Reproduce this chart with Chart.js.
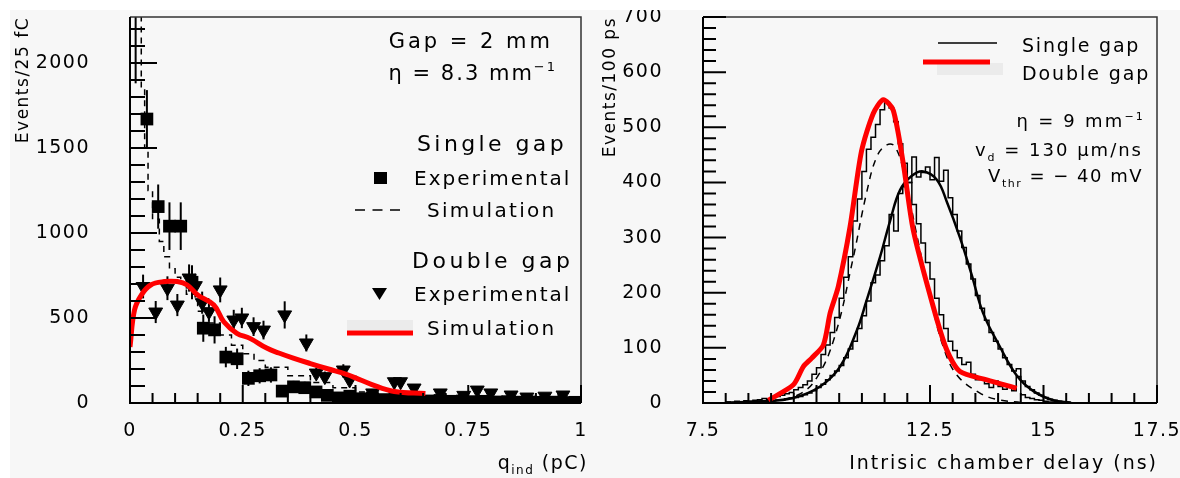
<!DOCTYPE html>
<html lang="en">
<head>
<meta charset="UTF-8">
<title>Induced charge and intrinsic chamber delay</title>
<style>
  body { margin: 0; background: #ffffff; }
  .sheet { position: relative; width: 1180px; height: 478px; overflow: hidden; }
  .bg { position: absolute; left: 10px; top: 10px; right: 0; bottom: 0; background: #f7f7f7; }
  .plot { position: absolute; top: 0; width: 590px; height: 478px; }
  .plot.left { left: 0; }
  .plot.right { left: 590px; }
  .cut { position: absolute; left: 0; top: 0; width: 1180px; height: 10px; background: #ffffff; }
</style>
</head>
<body>
<div class="sheet">
  <div class="bg"></div>
  <div class="plot left"><canvas id="chargeChart"></canvas></div>
  <div class="plot right"><canvas id="delayChart"></canvas></div>
  <div class="cut"></div>
</div>

<script src="https://cdn.jsdelivr.net/npm/chart.js@4.4.1/dist/chart.umd.min.js"></script>
<script>
// ---- left panel: induced charge (pC), events per 25 fC ----
const chargeTicks = [0, 0.25, 0.5, 0.75, 1];
const chargeCountTicks = [0, 500, 1000, 1500, 2000];

// single gap, experimental (squares)
const singleExpQ = [0.0125, 0.0375, 0.0625, 0.0875, 0.1125, 0.1375, 0.1625, 0.1875, 0.2125, 0.2375,
                    0.2625, 0.2875, 0.3125, 0.3375, 0.3625, 0.3875, 0.4125, 0.4375, 0.4625, 0.4875,
                    0.5125, 0.5375, 0.5625, 0.5875, 0.6125, 0.6375, 0.6625, 0.6875, 0.7125, 0.7375,
                    0.7625, 0.7875, 0.8125, 0.8375, 0.8625, 0.8875, 0.9125, 0.9375, 0.9625, 0.9875];
const singleExpN = [2500, 1670, 1155, 1040, 1040, 710, 440, 430, 270, 260,
                    145, 160, 165, 70, 95, 90, 65, 45, 30, 40,
                    25, 30, 20, 25, 15, 20, 12, 15, 10, 12,
                    8, 10, 6, 8, 5, 6, 4, 5, 3, 4];
const singleExpErr = [620, 170, 130, 140, 140, 100, 80, 80, 60, 60,
                      45, 45, 45, 30, 35, 35, 30, 25, 20, 22,
                      18, 20, 16, 18, 14, 16, 12, 14, 11, 12,
                      10, 11, 9, 10, 8, 9, 7, 8, 6, 7];

// double gap, experimental (triangles)
const doubleExpQ = [0.029, 0.057, 0.083, 0.105, 0.131, 0.145, 0.16, 0.175, 0.2, 0.23,
                    0.248, 0.274, 0.296, 0.343, 0.391, 0.413, 0.432, 0.473, 0.487, 0.538,
                    0.586, 0.60, 0.63, 0.688, 0.74, 0.77, 0.80, 0.845, 0.88, 0.92, 0.96];
const doubleExpN = [685, 535, 675, 576, 735, 690, 590, 537, 665, 488,
                    500, 449, 429, 518, 353, 176, 155, 194, 135, 59,
                    125, 125, 88, 59, 45, 76, 59, 47, 35, 40, 47];
const doubleExpErr = [70, 65, 70, 65, 80, 70, 65, 60, 73, 60,
                      60, 55, 55, 80, 50, 32, 30, 34, 28, 18,
                      26, 26, 22, 18, 15, 20, 18, 16, 14, 14, 16];

// single gap, simulation (dashed histogram, left bin edges)
const singleSimQ = [0, 0.025, 0.0325, 0.04, 0.05, 0.065, 0.075, 0.0875, 0.1, 0.1125,
                    0.125, 0.15, 0.175, 0.2, 0.225, 0.25, 0.275, 0.3, 0.35, 0.4,
                    0.45, 0.5, 0.55, 0.6, 0.7, 0.8, 0.9, 1];
const singleSimN = [2600, 1850, 1500, 1250, 1080, 950, 860, 790, 740, 700,
                    640, 540, 470, 400, 340, 290, 250, 210, 160, 120,
                    90, 65, 45, 30, 18, 10, 6, 6];

// double gap, simulation (red curve)
const doubleSimQ = [0, 0.01, 0.025, 0.046, 0.076, 0.105, 0.127, 0.15, 0.186, 0.208,
                    0.237, 0.266, 0.303, 0.33, 0.362, 0.40, 0.44, 0.48, 0.50, 0.535, 0.586, 0.655];
const doubleSimN = [330, 547, 635, 694, 714, 714, 694, 635, 576, 478,
                    410, 380, 323, 294, 264, 232, 200, 168, 148, 110, 68, 56];

// ---- right panel: intrinsic chamber delay (ns), events per 100 ps ----
const delayTicks = [7.5, 10, 12.5, 15, 17.5];
const delayCountTicks = [0, 100, 200, 300, 400, 500, 600, 700];
const delayBinStart = 8.0;
const delayBinWidth = 0.1;
const doubleExpDelay = [2, 0, 3, 2, 4, 3, 5, 6, 8, 7,
                        10, 12, 14, 17, 19, 24, 28, 33, 40, 52,
                        64, 88, 105, 128, 155, 190, 228, 265, 330, 370,
                        420, 460, 482, 505, 532, 545, 535, 510, 470, 435,
                        400, 360, 325, 290, 255, 225, 190, 160, 135, 112,
                        95, 82, 70, 74, 52, 42, 46, 35, 28, 40,
                        30, 25, 30, 22, 48, 15, 10, 8, 6, 5,
                        3, 2, 2, 1, 1, 0];
const singleExpDelay = [0, 1, 0, 2, 1, 2, 1, 3, 2, 3,
                        4, 5, 5, 7, 8, 10, 12, 15, 18, 22,
                        28, 34, 42, 50, 58, 68, 82, 98, 112, 135,
                        158, 185, 218, 232, 258, 285, 342, 312, 380, 392,
                        400, 446, 410, 418, 428, 405, 445, 402, 422, 372,
                        342, 312, 282, 252, 225, 195, 172, 150, 128, 112,
                        98, 82, 70, 58, 62, 40, 30, 24, 18, 14,
                        10, 7, 5, 3, 2, 1];
const singleFitT = [8.0, 8.8, 9.48, 10.08, 10.52, 10.89, 11.1, 11.4, 11.62, 11.84, 12.1,
                    12.35, 12.65, 12.87, 13.16, 13.42, 13.67, 14.04, 14.41, 14.77, 15.21, 15.6];
const singleFitN = [1, 3, 9, 30, 66, 132, 185, 265, 330, 386, 412,
                    420, 405, 365, 300, 232, 163, 102, 50, 22, 5, 1];
const doubleFitT = [9.0, 9.6, 10.0, 10.4, 10.8, 11.1, 11.33, 11.55, 11.73, 11.95,
                    12.17, 12.5, 12.8, 13.1, 13.6, 14.0, 14.5];
const doubleFitN = [3, 15, 45, 120, 260, 380, 447, 468, 465, 410,
                    320, 195, 100, 50, 18, 6, 1];
const doubleSimT = [8.94, 9.49, 9.71, 9.89, 10.15, 10.30, 10.48, 10.74, 10.99, 11.25,
                    11.47, 11.69, 11.91, 12.13, 12.57, 12.87, 13.16, 13.75, 14.41];
const doubleSimN2 = [5, 33, 66, 81, 105, 163, 211, 320, 456, 525,
                     550, 531, 435, 314, 175, 96, 57, 42, 27];

const FONT = '"DejaVu Sans", sans-serif';
Chart.defaults.font.family = FONT;
Chart.defaults.color = '#000';

const pts = (xs, ys) => xs.map((x, i) => ({x, y: ys[i]}));
function histPoints(start, width, counts) {
  const p = counts.map((n, i) => ({x: start + i * width, y: n}));
  p.push({x: start + counts.length * width, y: 0});
  return p;
}
const isMajor = (v, step) => Math.abs(v / step - Math.round(v / step)) < 1e-6;

// text with sub/superscripts, baseline placed so caps are centred on y
function label(ctx, parts, x, y, size, align, spacing) {
  ctx.letterSpacing = spacing + 'px';
  const fontFor = m => (m ? Math.round(size * 0.62) : size) + 'px ' + FONT;
  let w = 0;
  parts.forEach(([t, m]) => { ctx.font = fontFor(m); w += ctx.measureText(t).width; });
  let cx = align === 'right' ? x - w : x;
  ctx.textAlign = 'left';
  ctx.textBaseline = 'alphabetic';
  const base = y + size * 0.36;
  parts.forEach(([t, m]) => {
    ctx.font = fontFor(m);
    const dy = m === 'sub' ? size * 0.25 : m === 'sup' ? -size * 0.42 : 0;
    ctx.fillText(t, cx, base + dy);
    cx += ctx.measureText(t).width;
  });
}

const spacing = {
  id: 'spacing',
  beforeUpdate(chart) { chart.ctx.letterSpacing = '1.5px'; },
  beforeDraw(chart) { chart.ctx.letterSpacing = '1.5px'; }
};

const errorBars = {
  id: 'errorBars',
  beforeDatasetsDraw(chart) {
    const {ctx, chartArea: a, scales: {x, y}} = chart;
    ctx.save();
    ctx.beginPath();
    ctx.rect(a.left, a.top, a.right - a.left, a.bottom - a.top);
    ctx.clip();
    ctx.strokeStyle = '#000';
    ctx.lineWidth = 2;
    chart.data.datasets.forEach(ds => {
      if (!ds.errors) return;
      ds.data.forEach((p, i) => {
        const px = x.getPixelForValue(p.x);
        ctx.beginPath();
        ctx.moveTo(px, y.getPixelForValue(p.y - ds.errors[i]));
        ctx.lineTo(px, y.getPixelForValue(p.y + ds.errors[i]));
        ctx.stroke();
      });
    });
    ctx.restore();
  }
};

// box around the plot plus inward ticks on the left and bottom axes
function frame(xMinor, xMajor, yMinor, yMajor, yLong, yShort) {
  return {
    id: 'frame',
    afterDatasetsDraw(chart) {
      const {ctx, chartArea: a, scales: {x, y}} = chart;
      ctx.save();
      ctx.strokeStyle = '#333';
      ctx.lineWidth = 1.5;
      ctx.beginPath();
      ctx.moveTo(a.left, a.top); ctx.lineTo(a.right, a.top); ctx.lineTo(a.right, a.bottom);
      ctx.stroke();
      ctx.strokeStyle = '#000';
      ctx.lineWidth = 2;
      ctx.beginPath();
      ctx.moveTo(a.left, a.top); ctx.lineTo(a.left, a.bottom); ctx.lineTo(a.right, a.bottom);
      const nx = Math.round((x.max - x.min) / xMinor);
      for (let i = 0; i <= nx; i++) {
        const v = x.min + i * xMinor;
        const px = x.getPixelForValue(v);
        ctx.moveTo(px, a.bottom);
        ctx.lineTo(px, a.bottom - (isMajor(v, xMajor) ? 18 : 10));
      }
      const ny = Math.floor((y.max - y.min) / yMinor + 1e-6);
      for (let i = 0; i <= ny; i++) {
        const v = y.min + i * yMinor;
        const py = y.getPixelForValue(v);
        ctx.moveTo(a.left, py);
        ctx.lineTo(a.left + (isMajor(v, yMajor) ? yLong : yShort), py);
      }
      ctx.stroke();
      ctx.restore();
    }
  };
}

function axes(xMin, xMax, xTicks, yMin, yMax, yTicks, yWidth, yTitle, yTitlePad) {
  return {
    x: {
      type: 'linear', min: xMin, max: xMax,
      grid: { display: false }, border: { display: false },
      ticks: { font: { size: 19 }, color: '#000', padding: 9, maxRotation: 0, callback: v => String(v) },
      afterBuildTicks: s => { s.ticks = xTicks.map(v => ({value: v})); },
      afterFit: s => { s.height = 75; s.paddingLeft = 0; s.paddingRight = 0; }
    },
    y: {
      type: 'linear', min: yMin, max: yMax,
      grid: { display: false }, border: { display: false },
      ticks: { font: { size: 19 }, color: '#000', padding: 32, callback: v => String(v) },
      afterBuildTicks: s => { s.ticks = yTicks.map(v => ({value: v})); },
      afterFit: s => { s.width = yWidth; s.paddingTop = 0; s.paddingBottom = 0; },
      title: { display: true, text: yTitle, align: 'end', color: '#000',
               font: { size: 17 }, padding: { top: yTitlePad } }
    }
  };
}

// ---- left chart ----
const chargeNotes = {
  id: 'chargeNotes',
  afterDraw(chart) {
    const ctx = chart.ctx;
    ctx.save();
    ctx.fillStyle = '#000';
    label(ctx, [['Gap = 2 mm']], 553, 40, 21, 'right', 3);
    label(ctx, [['η = 8.3 mm'], ['−1', 'sup']], 557, 72, 21, 'right', 2);
    label(ctx, [['Single gap']], 417, 143, 22, 'left', 3.4);
    ctx.fillRect(374, 172, 13, 12);
    label(ctx, [['Experimental']], 414, 178, 20, 'left', 2);
    ctx.strokeStyle = '#000';
    ctx.lineWidth = 1.5;
    ctx.setLineDash([10, 7.5]);
    ctx.beginPath(); ctx.moveTo(355, 210); ctx.lineTo(400, 210); ctx.stroke();
    ctx.setLineDash([]);
    label(ctx, [['Simulation']], 427, 210, 20, 'left', 2.3);
    label(ctx, [['Double gap']], 412, 260, 22, 'left', 3.5);
    ctx.beginPath(); ctx.moveTo(372, 288); ctx.lineTo(387, 288); ctx.lineTo(379.5, 300); ctx.closePath(); ctx.fill();
    label(ctx, [['Experimental']], 414, 294, 20, 'left', 2);
    ctx.fillStyle = '#ebebeb';
    ctx.fillRect(347, 320, 66, 10);
    ctx.strokeStyle = '#ff0000';
    ctx.lineWidth = 5;
    ctx.beginPath(); ctx.moveTo(347, 333); ctx.lineTo(413, 333); ctx.stroke();
    ctx.fillStyle = '#000';
    label(ctx, [['Simulation']], 427, 328, 20, 'left', 2.3);
    // x axis title with subscript
    label(ctx, [['q'], ['ind', 'sub'], [' (pC)']], 588, 462, 19, 'right', 1.5);
    ctx.restore();
  }
};

new Chart(document.getElementById('chargeChart'), {
  type: 'scatter',
  data: {
    datasets: [
      { label: 'Double gap simulation', data: pts(doubleSimQ, doubleSimN), showLine: true,
        borderColor: '#ff0000', borderWidth: 5, pointRadius: 0, tension: 0.4, clip: 0 },
      { label: 'Double gap experimental', data: pts(doubleExpQ, doubleExpN), errors: doubleExpErr,
        pointStyle: 'triangle', rotation: 180, pointRadius: 8, backgroundColor: '#000',
        borderColor: '#000', borderWidth: 1, clip: 0 },
      { label: 'Single gap experimental', data: pts(singleExpQ, singleExpN), errors: singleExpErr,
        pointStyle: 'rect', pointRadius: 9, backgroundColor: '#000', borderColor: '#000',
        borderWidth: 0, clip: 0 },
      { label: 'Single gap simulation', data: pts(singleSimQ, singleSimN), showLine: true, stepped: 'before',
        borderColor: '#000', borderWidth: 1.5, borderDash: [6, 5], pointRadius: 0, clip: 0 }
    ]
  },
  options: {
    responsive: true, maintainAspectRatio: false, animation: false,
    layout: { padding: { top: 17, right: 5, left: 0, bottom: 0 } },
    plugins: { legend: { display: false }, tooltip: { enabled: false } },
    scales: axes(0, 1, chargeTicks, 0, 2270, chargeCountTicks, 130, 'Events/25 fC', 13)
  },
  plugins: [spacing, errorBars, frame(0.05, 0.25, 100, 500, 27, 15), chargeNotes]
});

// ---- right chart ----
const delayNotes = {
  id: 'delayNotes',
  afterDraw(chart) {
    const ctx = chart.ctx;
    ctx.save();
    ctx.strokeStyle = '#000';
    ctx.lineWidth = 1.5;
    ctx.beginPath(); ctx.moveTo(348, 43); ctx.lineTo(407, 43); ctx.stroke();
    ctx.fillStyle = '#000';
    label(ctx, [['Single gap']], 432, 45, 19, 'left', 1.8);
    ctx.fillStyle = '#ebebeb';
    ctx.fillRect(347, 63, 66, 12);
    ctx.strokeStyle = '#ff0000';
    ctx.lineWidth = 5;
    ctx.beginPath(); ctx.moveTo(333, 62); ctx.lineTo(400, 62); ctx.stroke();
    ctx.fillStyle = '#000';
    label(ctx, [['Double gap']], 432, 73, 19, 'left', 1.9);
    label(ctx, [['η = 9 mm'], ['−1', 'sup']], 555, 121, 18, 'right', 2.2);
    label(ctx, [['v'], ['d', 'sub'], [' = 130 μm/ns']], 553, 150, 18, 'right', 2);
    label(ctx, [['V'], ['thr', 'sub'], [' = − 40 mV']], 553, 176, 18, 'right', 1.5);
    // x axis title
    label(ctx, [['Intrisic chamber delay (ns)']], 568, 462, 19, 'right', 2);
    ctx.restore();
  }
};

new Chart(document.getElementById('delayChart'), {
  type: 'scatter',
  data: {
    datasets: [
      { label: 'Double gap', data: pts(doubleSimT, doubleSimN2), showLine: true,
        borderColor: '#ff0000', borderWidth: 5, pointRadius: 0, tension: 0.25, clip: 0 },
      { label: 'Single gap', data: pts(singleFitT, singleFitN), showLine: true,
        borderColor: '#000', borderWidth: 2.5, pointRadius: 0, tension: 0.4, clip: 0 },
      { label: 'Double gap fit', data: pts(doubleFitT, doubleFitN), showLine: true,
        borderColor: '#000', borderWidth: 1.5, borderDash: [7, 6], pointRadius: 0, tension: 0.4, clip: 0 },
      { label: 'Double gap data', data: histPoints(delayBinStart, delayBinWidth, doubleExpDelay),
        showLine: true, stepped: 'before', borderColor: '#000', borderWidth: 1.5, pointRadius: 0, clip: 0 },
      { label: 'Single gap data', data: histPoints(delayBinStart, delayBinWidth, singleExpDelay),
        showLine: true, stepped: 'before', borderColor: '#000', borderWidth: 1.5, pointRadius: 0, clip: 0 }
    ]
  },
  options: {
    responsive: true, maintainAspectRatio: false, animation: false,
    layout: { padding: { top: 17, right: 23, left: 0, bottom: 0 } },
    plugins: { legend: { display: false }, tooltip: { enabled: false } },
    scales: axes(7.5, 17.5, delayTicks, 0, 700, delayCountTicks, 113, 'Events/100 ps', 10)
  },
  plugins: [spacing, frame(0.5, 2.5, 20, 100, 23, 13), delayNotes]
});
</script>
</body>
</html>
